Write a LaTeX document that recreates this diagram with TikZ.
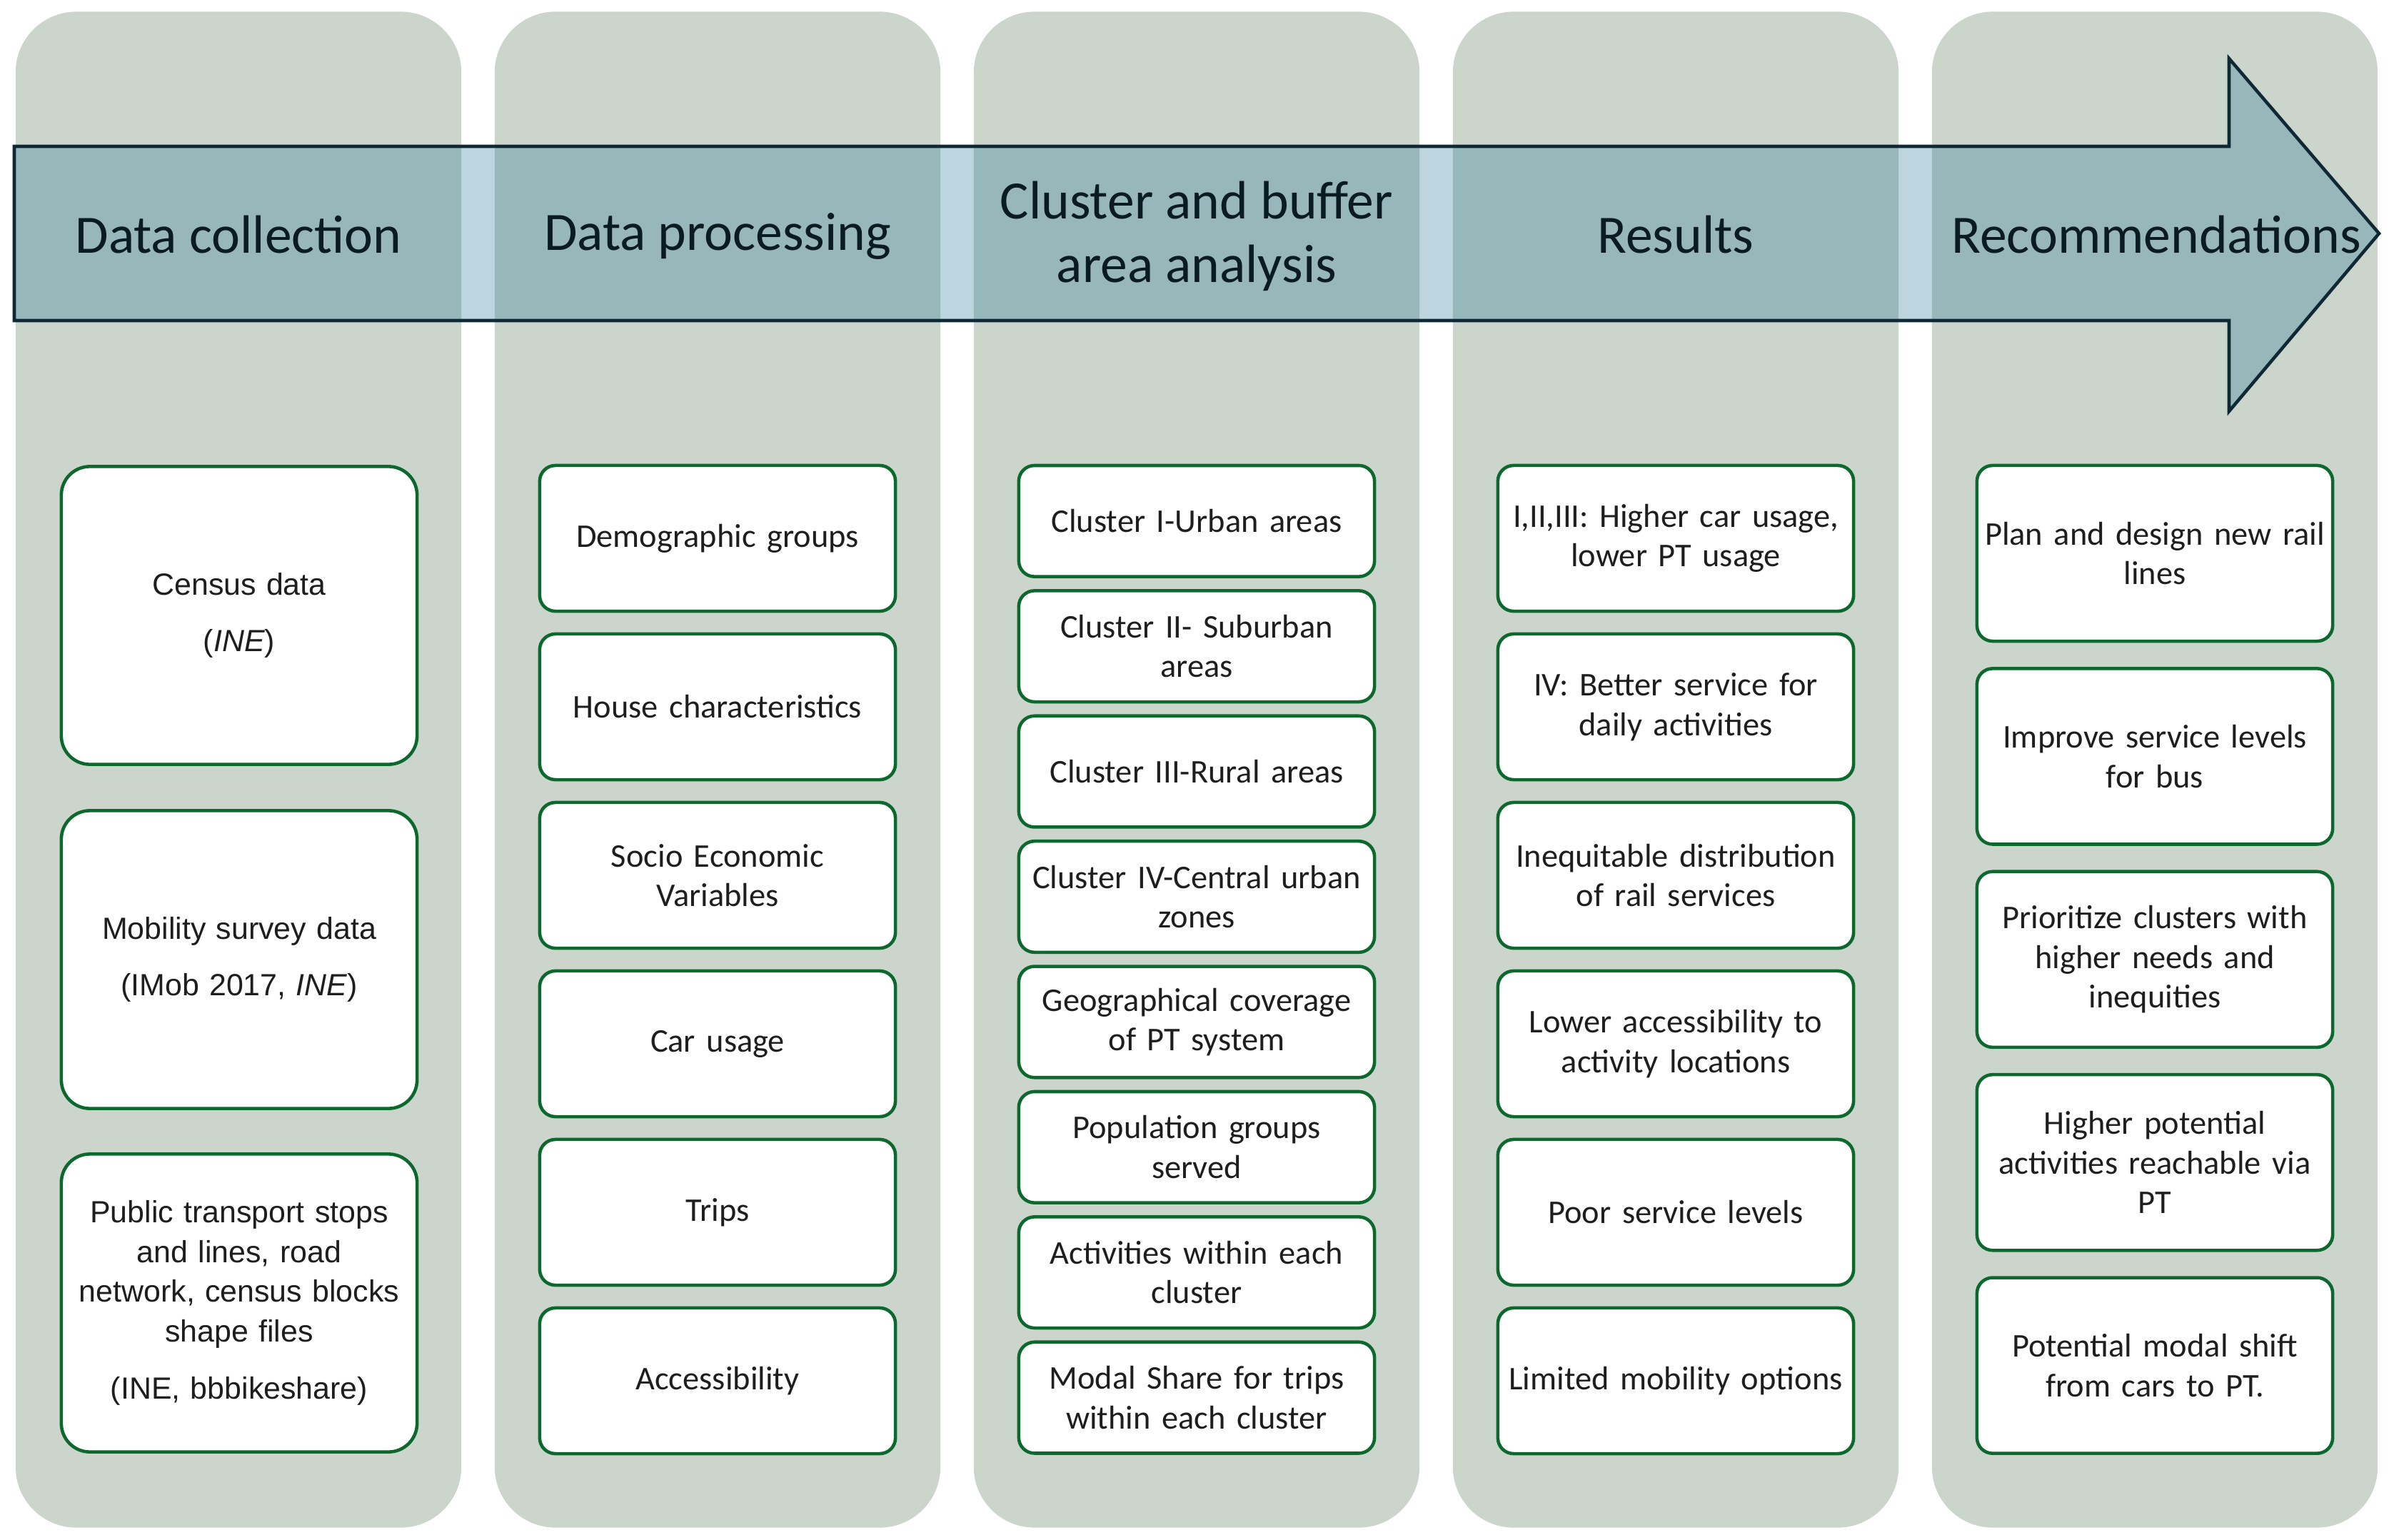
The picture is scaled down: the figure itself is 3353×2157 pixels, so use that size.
\documentclass[tikz,border=0pt]{standalone}
\usepackage{fontspec}
\setmainfont{Carlito}
\newfontfamily\arialfont{Liberation Sans}
\usetikzlibrary{positioning}
\hyphenpenalty=10000
\definecolor{lanefill}{RGB}{203,213,204}
\definecolor{arrowfill}{RGB}{32,115,148}
\definecolor{arrowline}{RGB}{14,40,52}
\definecolor{cardline}{RGB}{12,104,44}
\definecolor{cardtext}{RGB}{30,30,30}
\definecolor{headtext}{RGB}{10,28,34}

\begin{document}
\begin{tikzpicture}[x=0.01cm,y=-0.01cm,
 lane/.style={fill=lanefill, rounded corners=0.85cm, minimum width=6.24cm, minimum height=21.22cm, inner sep=0},
 head/.style={font=\fontsize{21.5}{25.2}\selectfont, text=headtext, align=center},
 card/.style={draw=cardline, line width=1.3pt, fill=white, rounded corners=0.22cm, minimum width=4.98cm, text width=4.94cm, align=center, inner sep=0, text=cardtext, font=\fontsize{13.2}{15.8}\selectfont},
 source/.style={card, rounded corners=0.4cm, minimum height=4.17cm, font=\arialfont\fontsize{12.2}{15.8}\selectfont}]
\useasboundingbox (0,0) rectangle (3353,2157);
\foreach \x [count=\i] in {334,1005,1676,2347,3018} {
 \node[lane] (lane\i) at (\x,1078) {};
}
\draw[arrowline, line width=1.3pt, fill=arrowfill, fill opacity=.3, line join=miter] (20,205) -- (3122,205) -- (3122,82) -- (3332,327) -- (3122,576) -- (3122,449) -- (20,449) -- cycle;
\node[head] (h1) at (334,329) {Data collection};
\node[head] (h2) at (1005,331) {Data processing};
\node[head] (h3) at (1676,331) {Cluster and buffer\\area analysis};
\node[head] (h4) at (2347,329) {Results};
\node[head] (h5) at (3020,329) {Recommendations};

\node[source] (src1) at (335,862) {Census data\\[6.6pt]({\itshape INE})};
\node[source] (src2) at (335,1344) {Mobility survey data\\[6.6pt](IMob 2017, {\itshape INE})};
\node[source] (src3) at (335,1825) {Public transport stops\\and lines, road\\network, census blocks\\shape files\\[7pt](INE, bbbikeshare)};

\foreach \t [count=\i] in {Demographic groups, House characteristics, {Socio Economic\\Variables}, Car usage, Trips, Accessibility} {
 \node[card, minimum height=2.04cm] (proc\i) at (1005,{754+236*(\i-1)}) {\t};
}
\foreach \t [count=\i] in {Cluster I-Urban areas, {Cluster II- Suburban\\areas}, Cluster III-Rural areas, {Cluster IV-Central urban\\zones}, {Geographical coverage\\of PT system}, {Population groups\\served}, {Activities within each\\cluster}, {Modal Share for trips\\within each cluster}} {
 \node[card, minimum height=1.556cm] (clus\i) at (1676,{729.8+175.4*(\i-1)}) {\t};
}
\foreach \t [count=\i] in {{I,II,III: Higher car usage,\\lower PT usage}, {IV: Better service for\\daily activities}, {Inequitable distribution\\of rail services}, {Lower accessibility to\\activity locations}, Poor service levels, Limited mobility options} {
 \node[card, minimum height=2.04cm] (res\i) at (2347,{754+236*(\i-1)}) {\t};
}
\foreach \t [count=\i] in {{Plan and design new rail\\lines}, {Improve service levels\\for bus}, {Prioritize clusters with\\higher needs and\\inequities}, {Higher potential\\activities reachable via\\PT}, {Potential modal shift\\from cars to PT.}} {
 \node[card, minimum height=2.46cm] (rec\i) at (3018,{775+284.4*(\i-1)}) {\t};
}
\end{tikzpicture}
\end{document}
